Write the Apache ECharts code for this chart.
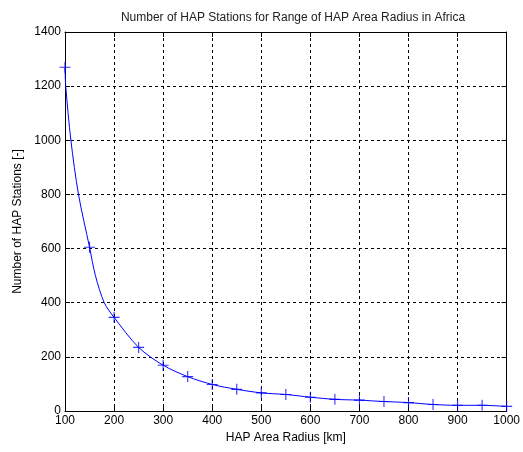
<!DOCTYPE html>
<html>
<head>
<meta charset="utf-8">
<script src="https://cdn.jsdelivr.net/npm/echarts@6/dist/echarts.min.js"></script>
<style>
  html, body { margin: 0; padding: 0; background: #fff; }
  #chart { width: 523px; height: 452px; }
</style>
</head>
<body>
<div id="chart"></div>
<script>
// curve (km, stations)
var curveRadius = [100, 101.5, 112, 127.5, 150, 162, 180, 200, 250, 300, 350, 400, 450, 500, 550, 600, 650, 700, 750, 800, 850, 900, 950, 1000];
var curveCount  = [1270, 1200, 1000, 800, 605, 500, 400, 346, 235, 169, 127, 98, 80, 67, 61, 51, 43, 40, 35, 31, 24, 21, 21, 17];
// '+' markers every 50 km
var markRadius = [100, 150, 200, 250, 300, 350, 400, 450, 500, 550, 600, 650, 700, 750, 800, 850, 900, 950, 1000];
var markCount  = [1270, 605, 346, 235, 169, 127, 98, 80, 67, 61, 51, 43, 40, 35, 31, 24, 21, 21, 17];

var chart = echarts.init(document.getElementById('chart'));
var font = 'Liberation Sans, Arial, sans-serif';
var plus = 'path://M4.5,0H5.5V4.5H10V5.5H5.5V10H4.5V5.5H0V4.5H4.5Z';

function pairs(xs, ys) {
  return xs.map(function (x, i) { return [x, ys[i]]; });
}
function plain(v) { return String(v); }

var axisCommon = {
  axisLine: { show: true, onZero: false, lineStyle: { color: '#000', width: 1 } },
  axisTick: { show: true, inside: true, length: 5, lineStyle: { color: '#000' } }
};
var labelStyle = { color: '#000', fontFamily: font, fontSize: 12, margin: 4, formatter: plain };
var gridLine = { show: true, lineStyle: { color: '#000', type: [3, 3], width: 1 } };

var option = {
  backgroundColor: '#fff',
  animation: false,
  title: {
    text: 'Number of HAP Stations for Range of HAP Area Radius in Africa',
    left: 288,
    top: 7,
    textAlign: 'center',
    textStyle: { fontFamily: font, fontSize: 12, fontWeight: 'normal', color: '#222' }
  },
  grid: { left: 65, right: 13, top: 32, bottom: 41, containLabel: false },
  xAxis: [
    Object.assign({}, axisCommon, {
      type: 'value', min: 100, max: 1000, interval: 100,
      name: 'HAP Area Radius [km]', nameLocation: 'middle', nameGap: 20,
      nameTextStyle: { fontFamily: font, fontSize: 12, color: '#000' },
      axisLabel: labelStyle,
      splitLine: gridLine
    }),
    Object.assign({}, axisCommon, {
      type: 'value', position: 'top', min: 100, max: 1000, interval: 100,
      axisLabel: { show: false }, splitLine: { show: false }
    })
  ],
  yAxis: [
    Object.assign({}, axisCommon, {
      type: 'value', min: 0, max: 1400, interval: 200,
      name: 'Number of HAP Stations [-]', nameLocation: 'middle', nameGap: 39,
      nameTextStyle: { fontFamily: font, fontSize: 12, color: '#000' },
      axisLabel: labelStyle,
      splitLine: gridLine
    }),
    Object.assign({}, axisCommon, {
      type: 'value', position: 'right', min: 0, max: 1400, interval: 200,
      axisLabel: { show: false }, splitLine: { show: false }
    })
  ],
  series: [
    {
      name: 'curve',
      type: 'line',
      smooth: 0.3,
      symbol: 'none',
      lineStyle: { color: '#0000ff', width: 1 },
      data: pairs(curveRadius, curveCount)
    },
    {
      name: 'marks',
      type: 'scatter',
      symbol: plus,
      symbolSize: 11,
      itemStyle: { color: '#0000ff' },
      data: pairs(markRadius, markCount)
    }
  ]
};

option && chart.setOption(option);
</script>
</body>
</html>
